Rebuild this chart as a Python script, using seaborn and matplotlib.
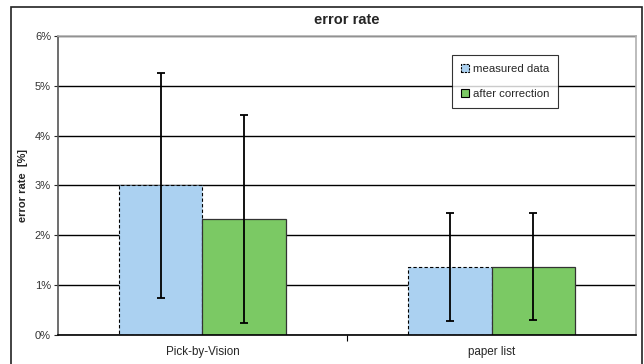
import pandas as pd
import matplotlib.pyplot as plt
import seaborn as sns
from matplotlib.patches import Patch, Rectangle
from matplotlib.ticker import FixedLocator

# values (error rate in %)
categories = ["Pick-by-Vision", "paper list"]
series = ["measured data", "after correction"]
measured = [3.0, 1.36]
corrected = [2.33, 1.37]
measured_err = [2.25, 1.08]
corrected_err = [2.09, 1.08]
y_ticks = [0, 1, 2, 3, 4, 5, 6]

blue = "#abd1f1"
green = "#7bc964"

sns.set_theme(style="white")
plt.rcParams["font.family"] = ["Liberation Sans", "DejaVu Sans"]

df = pd.DataFrame({
    "category": categories * 2,
    "series": [series[0]] * 2 + [series[1]] * 2,
    "value": measured + corrected,
    "err": measured_err + corrected_err,
})

fig = plt.figure(figsize=(6.44, 3.64), dpi=100)
ax = fig.add_axes([0.090, 0.080, 0.8976, 0.821])

sns.barplot(data=df, x="category", y="value", hue="series", order=categories,
            hue_order=series, palette=[blue, green], width=0.575,
            errorbar=None, legend=False, saturation=1, ax=ax)

# style the bars and add error bars at the bar centres
for i, bar in enumerate(ax.patches[:4]):
    if i < 2:
        bar.set_edgecolor("black")
        bar.set_linestyle((0, (3, 2)))
        bar.set_linewidth(0.8)
    else:
        bar.set_edgecolor("#333333")
        bar.set_linewidth(0.9)
    row = df.iloc[i]
    ax.errorbar(bar.get_x() + bar.get_width() / 2, row["value"], yerr=row["err"],
                fmt="none", ecolor="black", elinewidth=1.3, capsize=3, capthick=1.3,
                zorder=4)

ax.set_ylim(0, 6)
ax.set_xlim(-0.5, 1.5)
ax.set_yticks(y_ticks)
ax.set_yticklabels([f"{t}%" for t in y_ticks], fontsize=8, color="#333333")
ax.yaxis.grid(True, color="black", linewidth=1)
ax.set_axisbelow(True)
ax.tick_params(axis="y", length=3, width=0.8, left=True, pad=2)
ax.tick_params(axis="x", labelsize=8.4, length=0, pad=8)
ax.xaxis.set_minor_locator(FixedLocator([0.5]))
ax.tick_params(axis="x", which="minor", bottom=True, length=4, width=0.8, color="black")
ax.set_xlabel("")
ax.set_ylabel("error rate  [%]", fontsize=8, fontweight="bold", labelpad=5)
ax.set_title("error rate", fontsize=10.5, fontweight="bold", pad=9)

for side in ["top", "right"]:
    ax.spines[side].set_color("#b0b0b0")
    ax.spines[side].set_linewidth(1.2)
ax.spines["left"].set_color("#555555")
ax.spines["left"].set_linewidth(1.2)
ax.spines["bottom"].set_color("black")
ax.spines["bottom"].set_linewidth(1.2)

handles = [
    Patch(facecolor=blue, edgecolor="black", linestyle=(0, (2, 1)), linewidth=0.8),
    Patch(facecolor=green, edgecolor="black", linewidth=0.8),
]
leg = ax.legend(handles, series, loc="upper left", bbox_to_anchor=(0.682, 0.937),
                fontsize=8.2, frameon=True, fancybox=False, handlelength=0.7,
                handleheight=0.7, handletextpad=0.3, labelspacing=1.3,
                borderpad=0.8, borderaxespad=0)
leg.get_frame().set_edgecolor("black")
leg.get_frame().set_linewidth(0.8)

# outer chart frame
fig.patches.append(Rectangle((0.017, -0.02), 0.98, 1.002, transform=fig.transFigure,
                             fill=False, edgecolor="#222222", linewidth=1.2))

plt.savefig("out.png", dpi=100)
